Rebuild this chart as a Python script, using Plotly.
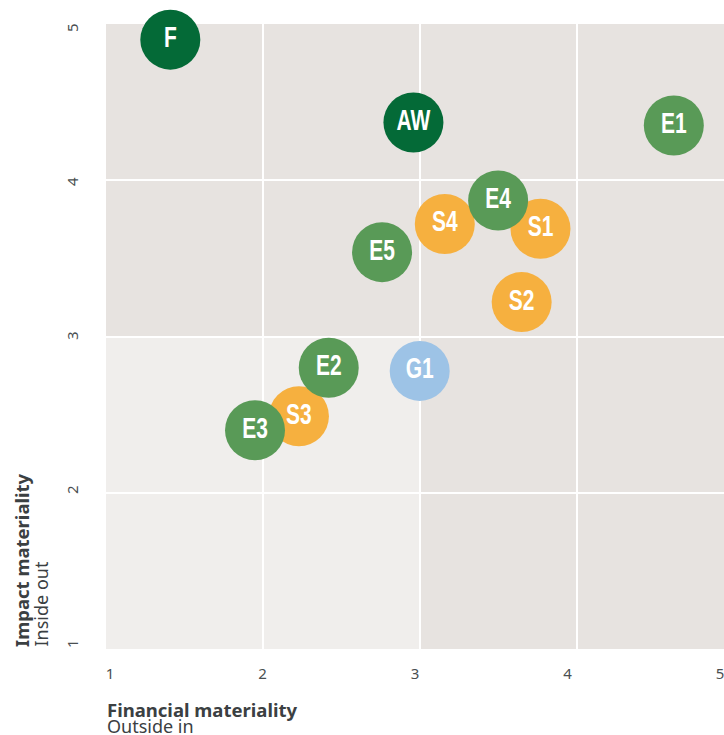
import plotly.graph_objects as go

# ---- data ----
labels = ["S1", "S2", "S3", "S4", "E1", "E2", "E3", "E4", "E5", "F", "AW", "G1"]
financial = [3.77, 3.65, 2.23, 3.16, 4.62, 2.42, 1.95, 3.50, 2.76, 1.41, 2.96, 3.00]
impact = [3.69, 3.22, 2.49, 3.72, 4.35, 2.80, 2.40, 3.87, 3.54, 4.90, 4.37, 2.78]
groups = ["social", "social", "social", "social",
          "environment", "environment", "environment", "environment", "environment",
          "core", "core", "governance"]
group_colors = {
    "social": "#F6B03F",
    "environment": "#599A57",
    "core": "#046A37",
    "governance": "#9DC3E6",
}
x_ticks = [1, 2, 3, 4, 5]
y_ticks = [1, 2, 3, 4, 5]
x_title = "Financial materiality"
x_subtitle = "Outside in"
y_title = "Impact materiality"
y_subtitle = "Inside out"

DARK_BG = "#E7E3E0"
LIGHT_BG = "#F0EEEC"
TEXT = "#3B4042"
TICK = "#4A4F51"

fig = go.Figure()

fig.add_trace(go.Scatter(
    x=financial, y=impact, text=labels,
    mode="markers+text",
    textposition="middle center",
    marker=dict(size=60, color=[group_colors[g] for g in groups], line=dict(width=0), opacity=1),
    textfont=dict(family="Liberation Sans, Arial, sans-serif",
                  size=30, color="white", weight="bold"),
    hoverinfo="text", showlegend=False, cliponaxis=False,
))

# dummy trace for the labelled overlay axes
fig.add_trace(go.Scatter(x=[], y=[], xaxis="x2", yaxis="y2", showlegend=False, hoverinfo="skip"))

# lighter lower-left quadrant
fig.add_shape(type="rect", xref="x", yref="y", x0=1, x1=3, y0=1, y1=3,
              fillcolor=LIGHT_BG, line=dict(width=0), layer="below")

fig.update_layout(
    width=724, height=735,
    margin=dict(l=106, r=0, t=24, b=86),
    paper_bgcolor="white",
    plot_bgcolor=DARK_BG,
    font=dict(family="Noto Sans, sans-serif", color=TEXT),
    xaxis=dict(range=[1.0, 4.94], tickvals=x_ticks, showticklabels=False,
               showgrid=True, gridcolor="white", gridwidth=2, zeroline=False,
               showline=False, ticks="", fixedrange=True),
    yaxis=dict(range=[1, 5], tickvals=y_ticks, showticklabels=False,
               showgrid=True, gridcolor="white", gridwidth=2, zeroline=False,
               showline=False, ticks="", fixedrange=True),
    xaxis2=dict(overlaying="x", anchor="y2", side="bottom", range=[0.974, 5.026],
                tickvals=x_ticks, ticktext=[str(v) for v in x_ticks],
                showgrid=False, zeroline=False, showline=False, ticks="",
                ticklabeloverflow="allow",
                tickfont=dict(size=15, color=TICK), ticklabelstandoff=14),
    yaxis2=dict(overlaying="y", anchor="x2", side="left", range=[0.98, 5.039],
                tickvals=y_ticks, ticktext=[str(v) for v in y_ticks],
                showgrid=False, zeroline=False, showline=False, ticks="",
                tickangle=-90, ticklabeloverflow="allow",
                tickfont=dict(size=15, color=TICK), ticklabelstandoff=24),
    annotations=[
        dict(text=f"<b>{x_title}</b>", xref="paper", yref="paper", x=0, y=0,
             xanchor="left", yanchor="middle", yshift=-60, xshift=-1,
             showarrow=False, font=dict(size=18.5, color=TEXT)),
        dict(text=x_subtitle, xref="paper", yref="paper", x=0, y=0,
             xanchor="left", yanchor="middle", yshift=-77, xshift=-1,
             showarrow=False, font=dict(size=18, color=TEXT)),
        dict(text=f"<b>{y_title}</b>", xref="paper", yref="paper", x=0, y=0,
             xanchor="center", yanchor="bottom", xshift=-85,
             textangle=-90, showarrow=False, font=dict(size=18.5, color=TEXT)),
        dict(text=y_subtitle, xref="paper", yref="paper", x=0, y=0,
             xanchor="center", yanchor="bottom", xshift=-66,
             textangle=-90, showarrow=False, font=dict(size=18, color=TEXT)),
    ],
)

post = """
document.body.style.margin = '0';
document.body.style.overflow = 'hidden';
var gd = document.getElementById('{plot_id}');
gd.querySelectorAll('g.textpoint text').forEach(function (t) {
  var x = parseFloat(t.getAttribute('x')), y = parseFloat(t.getAttribute('y'));
  t.setAttribute('transform', 'translate(' + x + ',' + y + ') scale(0.7,1) translate(' + (-x) + ',' + (-y) + ')');
});
"""

fig.write_html("out.html", post_script=post, config={"displayModeBar": False})
